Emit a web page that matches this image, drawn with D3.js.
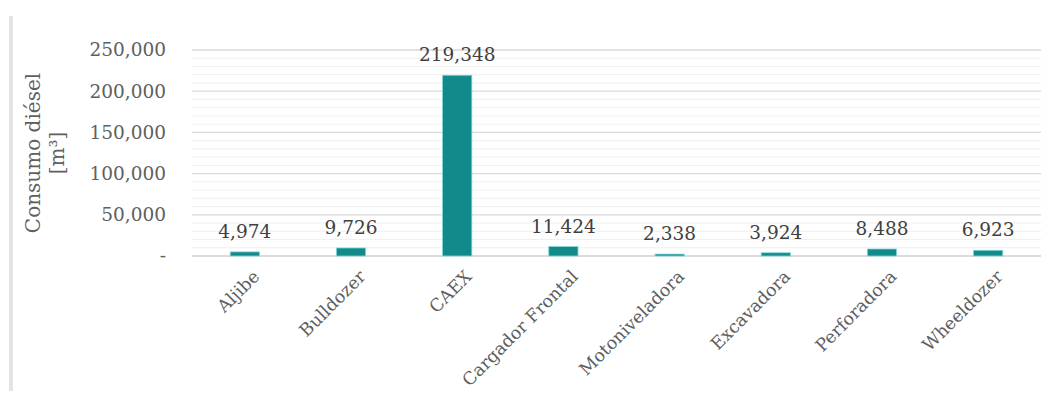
<!DOCTYPE html>
<html>
<head>
<meta charset="utf-8">
<script src="https://cdn.jsdelivr.net/npm/d3@7"></script>
<style>
  html, body { margin: 0; padding: 0; background: #fff; }
  svg { display: block; }
</style>
</head>
<body>
<script>
// Diesel consumption by equipment type
const categories = ["Aljibe", "Bulldozer", "CAEX", "Cargador Frontal", "Motoniveladora", "Excavadora", "Perforadora", "Wheeldozer"];
const consumo = [4974, 9726, 219348, 11424, 2338, 3924, 8488, 6923];
const majorTicks = [0, 50000, 100000, 150000, 200000, 250000];
const tickLabels = ["-", "50,000", "100,000", "150,000", "200,000", "250,000"];
const yTitle = ["Consumo diésel", "[m³]"];

const W = 1049, H = 394;
const margin = { left: 192, right: 8, top: 50, bottom: 138 };
const fontSerif = "'DejaVu Serif', 'Liberation Serif', serif";

const svg = d3.select("body").append("svg").attr("width", W).attr("height", H);

// frame strip on the left edge
svg.append("rect").attr("x", 9).attr("y", 16).attr("width", 4).attr("height", 375).attr("fill", "#e4e4e4");

const x = d3.scaleBand().domain(categories).range([margin.left, W - margin.right]).paddingInner(0.725).paddingOuter(0.36);
const y = d3.scaleLinear().domain([0, 250000]).range([H - margin.bottom, margin.top]);

// minor gridlines every 10,000
const minor = d3.range(0, 250001, 10000).filter(v => v % 50000 !== 0);
svg.append("g").selectAll("line").data(minor).join("line")
  .attr("x1", margin.left).attr("x2", W - margin.right)
  .attr("y1", d => y(d)).attr("y2", d => y(d))
  .attr("stroke", "#efefef").attr("stroke-width", 1);

// major gridlines
svg.append("g").selectAll("line").data(majorTicks.filter(v => v > 0)).join("line")
  .attr("x1", margin.left).attr("x2", W - margin.right)
  .attr("y1", d => y(d)).attr("y2", d => y(d))
  .attr("stroke", "#d9d9d9").attr("stroke-width", 1.3);

// y axis labels
const yAxis = d3.axisLeft(y).tickValues(majorTicks).tickSize(0).tickPadding(26)
  .tickFormat((d, i) => tickLabels[i]);
const gy = svg.append("g").attr("transform", `translate(${margin.left},0)`).call(yAxis);
gy.select(".domain").remove();
gy.selectAll("text").attr("font-family", fontSerif).attr("font-size", 18.5).attr("fill", "#5f5f5f");

// baseline
svg.append("line").attr("x1", margin.left).attr("x2", W - margin.right)
  .attr("y1", y(0)).attr("y2", y(0)).attr("stroke", "#d0d0d0").attr("stroke-width", 1.5);

// bars
svg.append("g").selectAll("rect").data(consumo).join("rect")
  .attr("x", (d, i) => x(categories[i]))
  .attr("width", x.bandwidth())
  .attr("y", d => y(d))
  .attr("height", d => y(0) - y(d))
  .attr("fill", "#138a8a")
  .attr("stroke", "#7fd6d6").attr("stroke-width", 0.8);

// value labels
svg.append("g").selectAll("text").data(consumo).join("text")
  .attr("x", (d, i) => x(categories[i]) + x.bandwidth() / 2)
  .attr("y", d => y(d) - 14)
  .attr("text-anchor", "middle")
  .attr("font-family", fontSerif).attr("font-size", 18.5).attr("fill", "#404040")
  .text(d => d3.format(",")(d));

// category labels, rotated
svg.append("g").selectAll("text").data(categories).join("text")
  .attr("transform", d => `translate(${x(d) + x.bandwidth() / 2 + 7},${y(0) + 13}) rotate(-45)`)
  .attr("text-anchor", "end")
  .attr("dy", "0.7em")
  .attr("font-family", fontSerif).attr("font-size", 17.5).attr("fill", "#5f5f5f")
  .text(d => d);

// y axis title
const ty = svg.append("text")
  .attr("transform", `translate(40,${(y(0) + y(250000)) / 2}) rotate(-90)`)
  .attr("text-anchor", "middle")
  .attr("font-family", fontSerif).attr("font-size", 20).attr("fill", "#5f5f5f");
ty.append("tspan").attr("x", 0).attr("dy", "0").text(yTitle[0]);
ty.append("tspan").attr("x", 0).attr("dy", "1.2em").text(yTitle[1]);
</script>
</body>
</html>
